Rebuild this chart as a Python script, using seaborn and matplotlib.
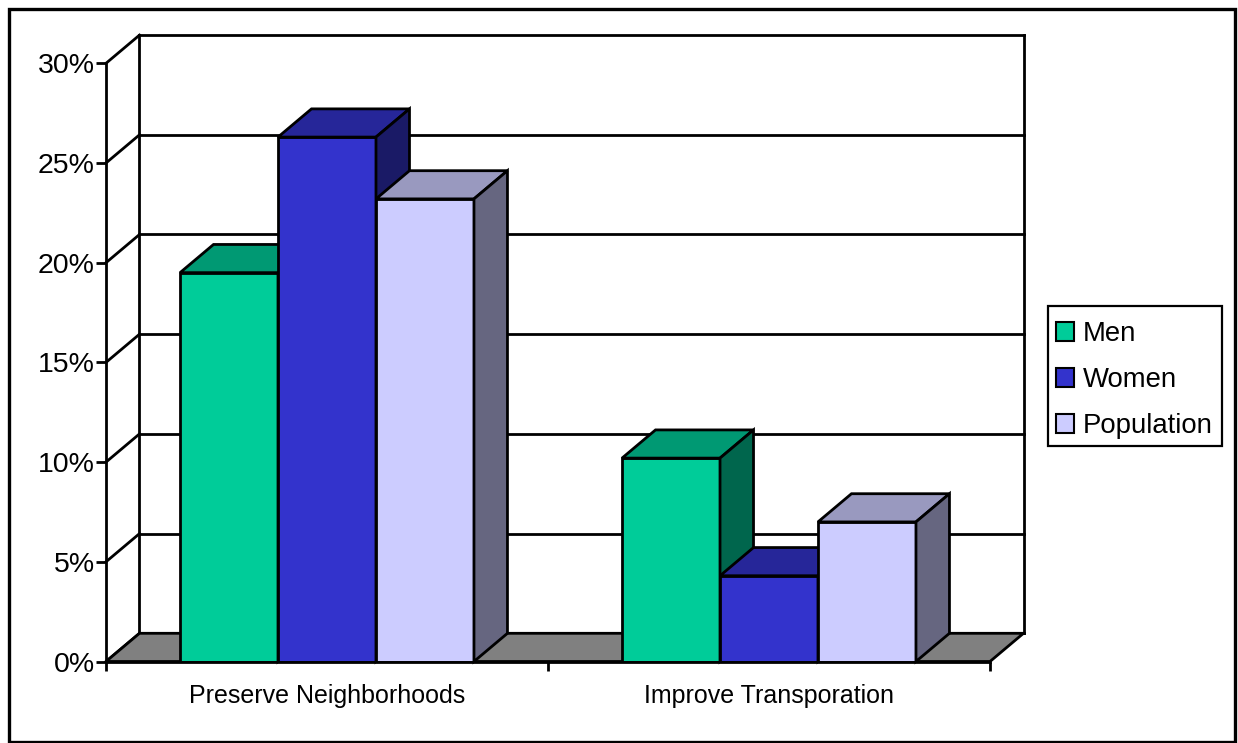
import matplotlib
matplotlib.use("Agg")
import matplotlib.pyplot as plt
from matplotlib.patches import Polygon, Rectangle, Patch
from matplotlib.lines import Line2D
import pandas as pd
import seaborn as sns

# Survey shares (%) by issue and group
issues = ["Preserve Neighborhoods", "Improve Transporation"]
groups = ["Men", "Women", "Population"]
men = [19.5, 10.2]
women = [26.3, 4.3]
population = [23.2, 7.0]
y_ticks = [0, 5, 10, 15, 20, 25, 30]
y_tick_labels = ["0%", "5%", "10%", "15%", "20%", "25%", "30%"]

front_colors = ["#00CC99", "#3333CC", "#CCCCFF"]
top_colors = ["#009973", "#262699", "#9999BF"]
side_colors = ["#00664D", "#1A1A66", "#666680"]
floor_color = "#808080"

df = pd.DataFrame({
    "issue": issues * 3,
    "group": [g for g in groups for _ in issues],
    "share": men + women + population,
})

sns.set_style("white")
plt.rcParams["font.family"] = ["Liberation Sans", "DejaVu Sans"]
plt.rcParams["text.color"] = "black"

W, H = 1238, 743
fig = plt.figure(figsize=(W / 100, H / 100), dpi=100)
ax_left, ax_right, ax_bottom, ax_top = 106, 990, 661.5, 63.3
ax = fig.add_axes([ax_left / W, 1 - ax_bottom / H,
                   (ax_right - ax_left) / W, (ax_bottom - ax_top) / H])
ax.set_facecolor("none")

LW = 2.0
sns.barplot(data=df, x="issue", y="share", hue="group", order=issues,
            hue_order=groups, palette=front_colors, saturation=1, width=0.665,
            errorbar=None, edgecolor="black", linewidth=LW, legend=False,
            ax=ax)
# seaborn adds bars hue level by hue level; remember each bar's group
rects = [p for p in ax.patches if isinstance(p, Rectangle)]
bar_info = [(p, j // len(issues)) for j, p in enumerate(rects)]
bar_info.sort(key=lambda t: t[0].get_x())

ax.set_xlim(-0.5, 1.5)
ax.set_ylim(0, 30)

# depth offset of the 3-D box in data units
dx = 33.5 / (ax_right - ax_left) * 2.0
dy = 28.2 / ((ax_bottom - ax_top) / 30.0)

x0, x1 = -0.5, 1.5
line_kw = dict(color="black", lw=LW, clip_on=False, solid_capstyle="projecting")

# back wall gridlines and the diagonals joining them to the front axis
for v in y_ticks:
    ax.add_line(Line2D([x0 + dx, x1 + dx], [v + dy, v + dy], zorder=1, **line_kw))
    ax.add_line(Line2D([x0, x0 + dx], [v, v + dy], zorder=1, **line_kw))
# back wall verticals
ax.add_line(Line2D([x0 + dx, x0 + dx], [dy, 30 + dy], zorder=1, **line_kw))
ax.add_line(Line2D([x1 + dx, x1 + dx], [dy, 30 + dy], zorder=1, **line_kw))

# floor
floor = Polygon([(x0, 0), (x0 + dx, dy), (x1 + dx, dy), (x1, 0)], closed=True,
                facecolor=floor_color, edgecolor="black", lw=LW, clip_on=False,
                zorder=1.5, joinstyle="miter")
ax.add_patch(floor)

# extrude every bar: front face from seaborn, then top and side faces
for i, (p, k) in enumerate(bar_info):
    bx, bw, bh = p.get_x(), p.get_width(), p.get_height()
    z = 3 + i
    p.set_zorder(z)
    p.set_joinstyle("miter")
    top = Polygon([(bx, bh), (bx + dx, bh + dy), (bx + bw + dx, bh + dy), (bx + bw, bh)],
                  closed=True, facecolor=top_colors[k], edgecolor="black", lw=LW,
                  zorder=z, clip_on=False, joinstyle="miter")
    side = Polygon([(bx + bw, 0), (bx + bw + dx, dy), (bx + bw + dx, bh + dy), (bx + bw, bh)],
                   closed=True, facecolor=side_colors[k], edgecolor="black", lw=LW,
                   zorder=z, clip_on=False, joinstyle="miter")
    ax.add_patch(top)
    ax.add_patch(side)

# axes styling
for s in ["top", "right"]:
    ax.spines[s].set_visible(False)
for s in ["left", "bottom"]:
    ax.spines[s].set_color("black")
    ax.spines[s].set_linewidth(LW)
    ax.spines[s].set_zorder(20)
ax.set_xlabel("")
ax.set_ylabel("")
ax.set_yticks(y_ticks)
ax.set_yticklabels(y_tick_labels)
ax.tick_params(axis="y", direction="out", length=7.2, width=LW, pad=1.0,
               labelsize=20.5, colors="black", left=True)
ax.set_xticks([0, 1])
ax.set_xticklabels(issues)
ax.set_xticks([-0.5, 0.5, 1.5], minor=True)
ax.tick_params(axis="x", which="major", length=0, pad=16, labelsize=18, colors="black")
ax.tick_params(axis="x", which="minor", direction="out", length=6.5, width=LW,
               bottom=True, colors="black")
ax.grid(False)

# legend: frameless entries inside a drawn box
box_l, box_t, box_r, box_b = 1048, 306, 1222, 446
fig.patches.append(Rectangle((box_l / W, 1 - box_b / H), (box_r - box_l) / W,
                             (box_b - box_t) / H, transform=fig.transFigure,
                             facecolor="white", edgecolor="black", lw=1.6,
                             joinstyle="miter", zorder=5))
handles = [Patch(facecolor=c, edgecolor="black", lw=1.5) for c in front_colors]
leg = fig.legend(handles, groups, loc="center left",
                 bbox_to_anchor=(1056 / W, 1 - 380 / H), borderaxespad=0,
                 fontsize=19.8, frameon=False, labelcolor="black",
                 handlelength=0.67, handleheight=0.72, handletextpad=0.3,
                 labelspacing=0.73, borderpad=0.0)
leg.set_zorder(6)

# outer chart frame
fig.patches.append(Rectangle((8.5 / W, 1 - 741.5 / H), (1235 - 8.5) / W, (741.5 - 8.5) / H,
                             transform=fig.transFigure, fill=False, edgecolor="black",
                             lw=2.4, joinstyle="miter"))

fig.savefig("out.png", dpi=100)
